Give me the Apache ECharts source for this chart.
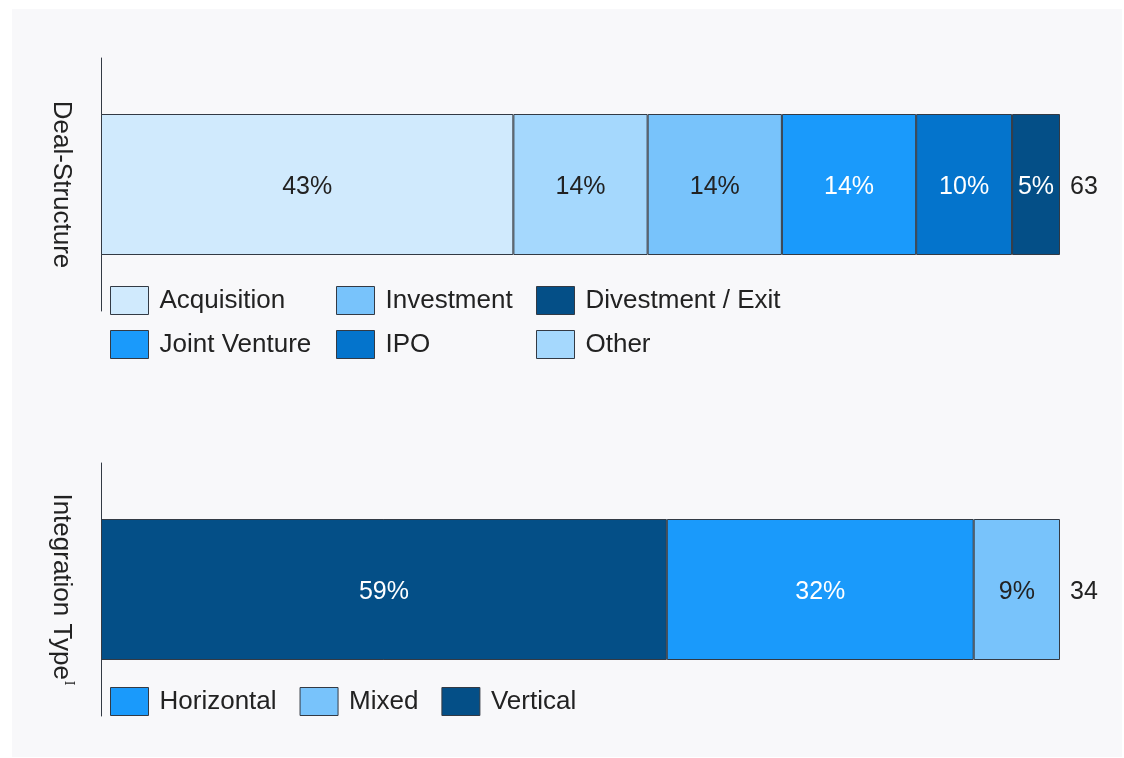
<!DOCTYPE html>
<html lang="en">
<head>
  <meta charset="utf-8">
  <title>Deal-Structure and Integration Type</title>
  <script type="text/javascript" src="https://cdn.jsdelivr.net/npm/echarts@6/dist/echarts.min.js"></script>
  <style type="text/css">
    * {
      margin: 0;
      padding: 0;
    }
    html, body {
      width: 100%;
      height: 100%;
      overflow: hidden;
      background: #ffffff;
    }
    #panel {
      position: absolute;
      left: 12px;
      top: 9px;
      width: 1110px;
      height: 748px;
      background: #f8f8fa;
    }
    #chart {
      position: absolute;
      left: 0;
      top: 0;
      width: 1124px;
      height: 758px;
    }
  </style>
</head>
<body>
  <div id="panel"></div>
  <div id="chart"></div>
  <script type="text/javascript">
    // data (shares in %, totals = number of deals)
    var dealCategories = ['Acquisition', 'Other', 'Investment', 'Joint Venture', 'IPO', 'Divestment / Exit'];
    var dealShares = [43, 14, 14, 14, 10, 5];
    var dealTotal = 63;

    var integrationCategories = ['Vertical', 'Horizontal', 'Mixed'];
    var integrationShares = [59, 32, 9];
    var integrationTotal = 34;

    var colors = {
      'Acquisition': '#d0eafd',
      'Other': '#a5d8fd',
      'Investment': '#78c3fb',
      'Joint Venture': '#1a9afb',
      'IPO': '#0474cc',
      'Divestment / Exit': '#044f87',
      'Vertical': '#044f87',
      'Horizontal': '#1a9afb',
      'Mixed': '#78c3fb'
    };
    var darkText = ['Acquisition', 'Other', 'Investment', 'Mixed'];

    var font = 'Liberation Sans, Arial, sans-serif';
    var textColor = '#222222';
    var barHeight = 141;

    function stackSeries(names, values, axisIdx, stackName) {
      return names.map(function (name, i) {
        return {
          type: 'bar',
          name: name,
          stack: stackName,
          xAxisIndex: axisIdx,
          yAxisIndex: axisIdx,
          barWidth: barHeight,
          data: [values[i]],
          itemStyle: {
            color: colors[name],
            borderColor: '#333a44',
            borderWidth: 1
          },
          label: {
            show: true,
            position: 'inside',
            offset: [0, 3],
            formatter: '{c}%',
            fontFamily: font,
            fontSize: 25,
            color: darkText.indexOf(name) >= 0 ? textColor : '#ffffff'
          },
          emphasis: { disabled: true },
          silent: true
        };
      });
    }

    function totalSeries(total, axisIdx, stackName) {
      return {
        type: 'bar',
        name: 'total-' + stackName,
        stack: stackName,
        xAxisIndex: axisIdx,
        yAxisIndex: axisIdx,
        barWidth: barHeight,
        data: [0],
        itemStyle: { color: 'transparent' },
        label: {
          show: true,
          position: 'right',
          distance: 10,
          offset: [0, 3],
          formatter: function () { return String(total); },
          fontFamily: font,
          fontSize: 25,
          color: textColor
        },
        silent: true
      };
    }

    var series = []
      .concat(stackSeries(dealCategories, dealShares, 0, 'deal'))
      .concat([totalSeries(dealTotal, 0, 'deal')])
      .concat(stackSeries(integrationCategories, integrationShares, 1, 'integration'))
      .concat([totalSeries(integrationTotal, 1, 'integration')]);

    var legendBase = {
      padding: 0,
      itemWidth: 38,
      itemHeight: 28,
      icon: 'rect',
      selectedMode: false,
      itemStyle: { borderColor: '#333a44', borderWidth: 1 },
      textStyle: { fontFamily: font, fontSize: 26, color: textColor, padding: [4, 0, 0, 6] }
    };

    function legend(extra) {
      return Object.assign({}, legendBase, extra);
    }

    function yAxis(title, gridIdx) {
      return {
        type: 'category',
        gridIndex: gridIdx,
        data: [''],
        axisLine: { show: true, lineStyle: { color: '#333a44', width: 1 } },
        axisTick: { show: false },
        axisLabel: { show: false },
        name: title,
        nameLocation: 'middle',
        nameRotate: -90,
        nameGap: 27,
        nameTextStyle: {
          fontFamily: font,
          fontSize: 26,
          color: textColor,
          rich: {
            sup: { fontFamily: 'DejaVu Serif', fontSize: 12, color: textColor, verticalAlign: 'top', padding: [0, 0, 10, 1] }
          }
        }
      };
    }

    var option = {
      animation: false,
      grid: [
        { left: 101, right: 64, top: 58, height: 253 },
        { left: 101, right: 64, top: 463, height: 253 }
      ],
      xAxis: [
        { type: 'value', gridIndex: 0, min: 0, max: 100, show: false },
        { type: 'value', gridIndex: 1, min: 0, max: 100, show: false }
      ],
      yAxis: [
        yAxis('Deal-Structure', 0),
        yAxis('Integration Type{sup|I}', 1)
      ],
      legend: [
        legend({ orient: 'vertical', left: 110, top: 286, itemGap: 15, data: ['Acquisition', 'Joint Venture'] }),
        legend({ orient: 'vertical', left: 336, top: 286, itemGap: 15, data: ['Investment', 'IPO'] }),
        legend({ orient: 'vertical', left: 536, top: 286, itemGap: 15, data: ['Divestment / Exit', 'Other'] }),
        legend({ orient: 'horizontal', left: 110, top: 687, itemGap: 23, data: ['Horizontal', 'Mixed', 'Vertical'] })
      ],
      series: series
    };

    var chart = echarts.init(document.getElementById('chart'), null, { renderer: 'canvas' });
    chart.setOption(option);
  </script>
</body>
</html>
